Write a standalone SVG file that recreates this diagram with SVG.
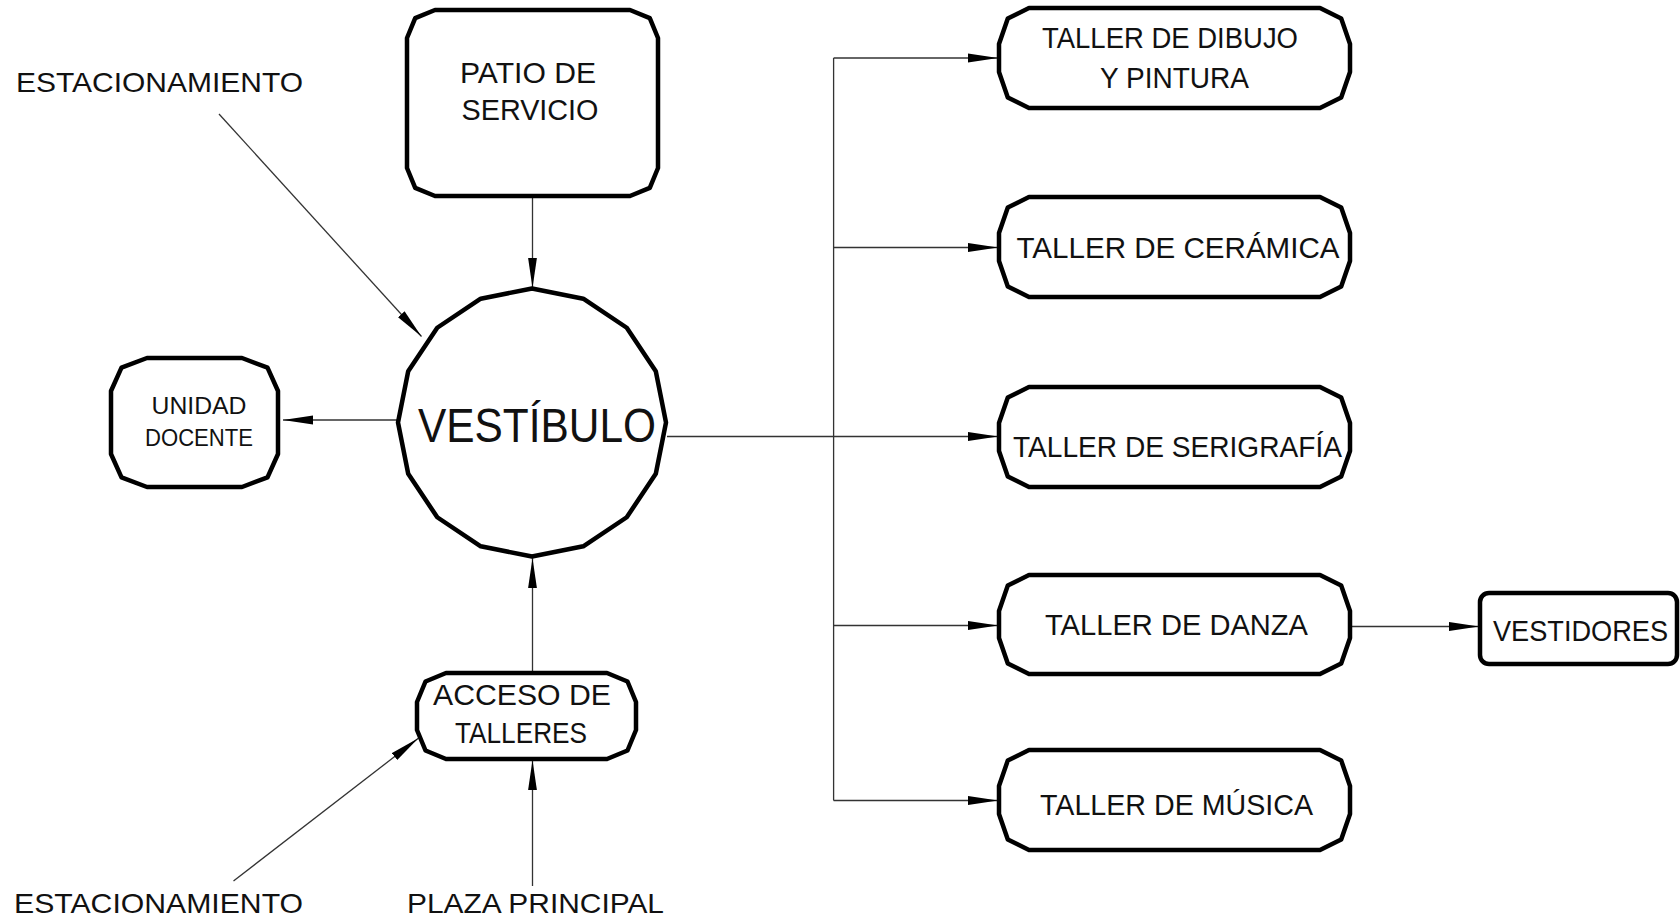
<svg xmlns="http://www.w3.org/2000/svg" width="1680" height="923" viewBox="0 0 1680 923">
<style>
.box{fill:#fff;stroke:#000;stroke-width:4.5;stroke-linejoin:round}
.t{font-family:"Liberation Sans",Arial,sans-serif;fill:#111;text-anchor:middle;font-size:29px}
.lbl{font-family:"Liberation Sans",Arial,sans-serif;fill:#111;font-size:28px}
.c{fill:none;stroke:#333;stroke-width:1.3}
</style>
<defs>
<marker id="ah" markerUnits="userSpaceOnUse" markerWidth="32" markerHeight="12" refX="30" refY="5" orient="auto">
<path d="M0,0.6 L30,5 L0,9.4 Z" fill="#000"/>
</marker>
</defs>
<rect width="1680" height="923" fill="#fff"/>
<g id="connectors">
<line class="c" x1="532.5" y1="197" x2="532.5" y2="288" marker-end="url(#ah)"/>
<line class="c" x1="219" y1="114" x2="421.5" y2="336.5" marker-end="url(#ah)"/>
<line class="c" x1="397" y1="420" x2="283" y2="420" marker-end="url(#ah)"/>
<line class="c" x1="532.5" y1="673" x2="532.5" y2="558" marker-end="url(#ah)"/>
<line class="c" x1="532.5" y1="886" x2="532.5" y2="760" marker-end="url(#ah)"/>
<line class="c" x1="233.5" y1="881" x2="418.3" y2="738.3" marker-end="url(#ah)"/>
<line class="c" x1="667" y1="436.5" x2="998" y2="436.5" marker-end="url(#ah)"/>
<line class="c" x1="833.6" y1="58" x2="833.6" y2="800.5"/>
<line class="c" x1="833.6" y1="58" x2="998" y2="58" marker-end="url(#ah)"/>
<line class="c" x1="833.6" y1="247.5" x2="998" y2="247.5" marker-end="url(#ah)"/>
<line class="c" x1="833.6" y1="625.5" x2="998" y2="625.5" marker-end="url(#ah)"/>
<line class="c" x1="833.6" y1="800.5" x2="998" y2="800.5" marker-end="url(#ah)"/>
<line class="c" x1="1352" y1="626.5" x2="1479" y2="626.5" marker-end="url(#ah)"/>
</g>
<g id="patio">
<polygon class="box" points="435,10 630,10 649.8,18.2 658,38 658,168 649.8,187.8 630,196 435,196 415.2,187.8 407,168 407,38 415.2,18.2"/>
<text class="t" x="528" y="83" textLength="136" lengthAdjust="spacingAndGlyphs">PATIO DE</text>
<text class="t" x="530" y="120" textLength="137" lengthAdjust="spacingAndGlyphs">SERVICIO</text>
</g>
<g id="vestibulo">
<polygon class="box" points="532,288.5 583.28,298.7 626.75,327.75 655.8,371.22 666,422.5 655.8,473.78 626.75,517.25 583.28,546.3 532,556.5 480.72,546.3 437.25,517.25 408.2,473.78 398,422.5 408.2,371.22 437.25,327.75 480.72,298.7"/>
<text class="t" x="537" y="442" style="font-size:49px" textLength="238" lengthAdjust="spacingAndGlyphs">VESTÍBULO</text>
</g>
<g id="unidad-docente">
<polygon class="box" points="147,358 242,358 267.5,367.7 278,391 278,454 267.5,477.3 242,487 147,487 121.5,477.3 111,454 111,391 121.5,367.7"/>
<text class="t" x="199" y="414" style="font-size:23px" textLength="95" lengthAdjust="spacingAndGlyphs">UNIDAD</text>
<text class="t" x="199" y="446" style="font-size:23px" textLength="108" lengthAdjust="spacingAndGlyphs">DOCENTE</text>
</g>
<g id="acceso">
<polygon class="box" points="446,673 607,673 627.5,681.5 636,702 636,730 627.5,750.5 607,759 446,759 425.5,750.5 417,730 417,702 425.5,681.5"/>
<text class="t" x="522" y="705" style="font-size:30px" textLength="178" lengthAdjust="spacingAndGlyphs">ACCESO DE</text>
<text class="t" x="521" y="743" style="font-size:30px" textLength="132" lengthAdjust="spacingAndGlyphs">TALLERES</text>
</g>
<g id="taller-dibujo">
<polygon class="box" points="1029,8 1320,8 1341.2,18.5 1350,44 1350,72 1341.2,97.5 1320,108 1029,108 1007.8,97.5 999,72 999,44 1007.8,18.5"/>
<text class="t" x="1170" y="48" textLength="256" lengthAdjust="spacingAndGlyphs">TALLER DE DIBUJO</text>
<text class="t" x="1174.5" y="88" textLength="149" lengthAdjust="spacingAndGlyphs">Y PINTURA</text>
</g>
<g id="taller-ceramica">
<polygon class="box" points="1029,197 1320,197 1341.2,207.5 1350,233 1350,261 1341.2,286.5 1320,297 1029,297 1007.8,286.5 999,261 999,233 1007.8,207.5"/>
<text class="t" x="1178" y="258" textLength="323" lengthAdjust="spacingAndGlyphs">TALLER DE CERÁMICA</text>
</g>
<g id="taller-serigrafia">
<polygon class="box" points="1029,387 1320,387 1341.2,397.5 1350,423 1350,451 1341.2,476.5 1320,487 1029,487 1007.8,476.5 999,451 999,423 1007.8,397.5"/>
<text class="t" x="1177.5" y="457" textLength="329" lengthAdjust="spacingAndGlyphs">TALLER DE SERIGRAFÍA</text>
</g>
<g id="taller-danza">
<polygon class="box" points="1029,575 1320,575 1341.2,585.5 1350,611 1350,638 1341.2,663.5 1320,674 1029,674 1007.8,663.5 999,638 999,611 1007.8,585.5"/>
<text class="t" x="1176.5" y="635" textLength="263" lengthAdjust="spacingAndGlyphs">TALLER DE DANZA</text>
</g>
<g id="taller-musica">
<polygon class="box" points="1029,750 1320,750 1341.2,760.5 1350,786 1350,814 1341.2,839.5 1320,850 1029,850 1007.8,839.5 999,814 999,786 1007.8,760.5"/>
<text class="t" x="1176.5" y="815" textLength="273" lengthAdjust="spacingAndGlyphs">TALLER DE MÚSICA</text>
</g>
<g id="vestidores">
<rect class="box" x="1480" y="593" width="197" height="71" rx="9"/>
<text class="t" x="1580.5" y="641" textLength="175" lengthAdjust="spacingAndGlyphs">VESTIDORES</text>
</g>
<g id="labels">
<text class="lbl" x="16" y="92" textLength="287" lengthAdjust="spacingAndGlyphs">ESTACIONAMIENTO</text>
<text class="lbl" x="14" y="913" textLength="289" lengthAdjust="spacingAndGlyphs">ESTACIONAMIENTO</text>
<text class="lbl" x="407" y="913" textLength="257" lengthAdjust="spacingAndGlyphs">PLAZA PRINCIPAL</text>
</g>
</svg>
